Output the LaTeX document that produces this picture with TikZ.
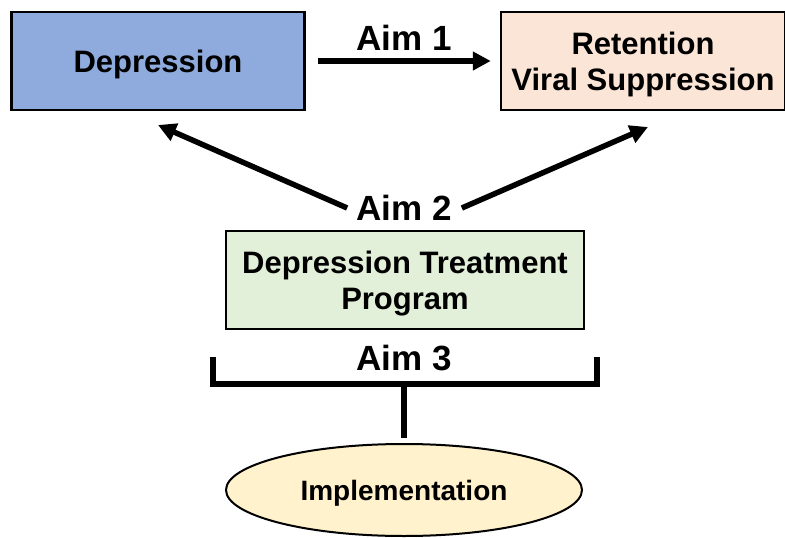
\documentclass[tikz,border=0pt]{standalone}
\usepackage{fontspec}
\setmainfont{Liberation Sans}
\usetikzlibrary{arrows.meta,shapes.geometric}
\definecolor{depblue}{HTML}{8FAADC}
\definecolor{retpeach}{HTML}{FBE5D6}
\definecolor{trtgreen}{HTML}{E2F0D9}
\definecolor{impyellow}{HTML}{FFF2CC}
\begin{document}
\begin{tikzpicture}[x=1pt,y=-1pt,
  box/.style={draw=black,line width=2.5pt,align=center,inner sep=0pt,text depth=0pt,
    font=\fontsize{31}{36}\selectfont\bfseries},
  aimlabel/.style={inner sep=0pt,font=\fontsize{35}{40}\selectfont\bfseries},
  arr/.style={line width=5.5pt,-{Triangle[length=18pt,width=18pt]}}]
\useasboundingbox (0,0) rectangle (785,538);
% outcome boxes
\node[box,fill=depblue,minimum width=293pt,minimum height=98pt] (dep) at (158,61) {Depression};
\node[box,fill=retpeach,minimum width=284pt,minimum height=98pt] (ret) at (643,61) {Retention\\Viral Suppression};
\node[aimlabel] (aim1) at (404,37.5) {Aim 1};
\draw[arr] ([xshift=12pt]dep.east) -- ([xshift=-9pt]ret.west);
% treatment
\node[aimlabel] (aim2) at (404,208) {Aim 2};
\coordinate (depTip) at (158,125);
\coordinate (retTip) at (648,127);
\draw[arr] ([xshift=-9pt]aim2.west) -- (depTip);
\draw[arr] ([xshift=10pt]aim2.east) -- (retTip);
\node[box,fill=trtgreen,minimum width=358pt,minimum height=98pt] (trt) at (405,280) {Depression Treatment\\Program};
% implementation
\node[aimlabel] (aim3) at (404,358) {Aim 3};
\coordinate (brL) at (213,357);
\coordinate (brR) at (597,357);
\coordinate (brMid) at (404,384);
\draw[line width=6pt] (brL) |- (brR |- brMid) -- (brR);
\node[ellipse,draw=black,line width=2pt,fill=impyellow,minimum width=356pt,minimum height=92pt,
  inner sep=0pt,text depth=0pt,font=\fontsize{28}{34}\selectfont\bfseries] (imp) at (404,490) {Implementation};
\draw[line width=6pt,shorten >=5pt] (brMid) -- (imp.north);
\end{tikzpicture}
\end{document}
